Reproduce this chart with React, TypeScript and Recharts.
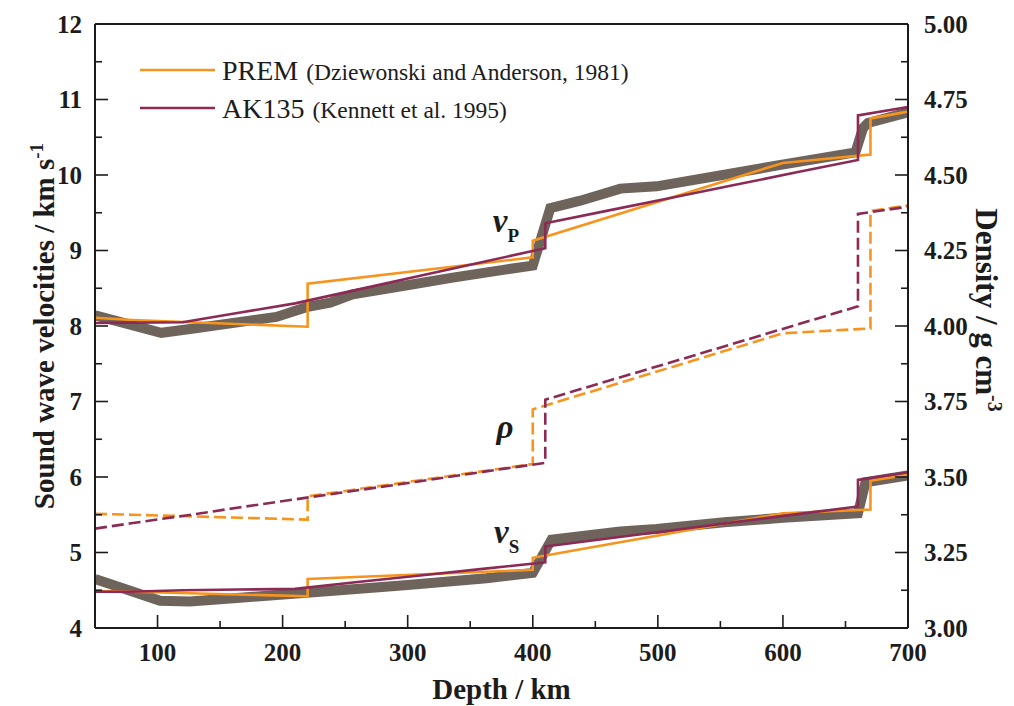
import React from 'react';
import { ComposedChart, Line, XAxis, YAxis, Legend, ReferenceDot, Label } from 'recharts';

const SERIF = '"Liberation Serif", "Times New Roman", serif';
const INK = '#1c1c1c';
const ORANGE = '#F7941E';
const PLUM = '#8B2A55';
const GREY = '#6E645C';

// axis ticks
const depthTicks = [100, 150, 200, 250, 300, 350, 400, 450, 500, 550, 600, 650, 700];
const velocityTicks = [4, 4.5, 5, 5.5, 6, 6.5, 7, 7.5, 8, 8.5, 9, 9.5, 10, 10.5, 11, 11.5, 12];
const densityTicks = [3, 3.125, 3.25, 3.375, 3.5, 3.625, 3.75, 3.875, 4, 4.125, 4.25, 4.375, 4.5, 4.625, 4.75, 4.875, 5];

// PREM (Dziewonski and Anderson, 1981)
const premDepth = [50, 80, 220, 220, 400, 400, 600, 670, 670, 700];
const premVp = [8.11, 8.08, 7.99, 8.56, 8.91, 9.13, 10.16, 10.27, 10.75, 10.84];
const premVs = [4.49, 4.48, 4.42, 4.65, 4.77, 4.93, 5.52, 5.57, 5.95, 6.03];
const premRho = [3.378, 3.375, 3.359, 3.436, 3.543, 3.724, 3.976, 3.992, 4.381, 4.399];

// AK135 (Kennett et al. 1995)
const akDepth = [50, 77.5, 120, 165, 210, 260, 310, 360, 410, 410, 460, 510, 560, 610, 660, 660, 700];
const akVp = [8.04, 8.045, 8.05, 8.175, 8.30, 8.482, 8.665, 8.848, 9.03, 9.36, 9.528, 9.696, 9.864, 10.032, 10.20, 10.79, 10.90];
const akVs = [4.48, 4.48, 4.50, 4.509, 4.518, 4.609, 4.696, 4.783, 4.870, 5.081, 5.186, 5.292, 5.399, 5.505, 5.610, 5.961, 6.064];
const akRho = [3.329, 3.346, 3.371, 3.399, 3.426, 3.456, 3.486, 3.517, 3.547, 3.756, 3.818, 3.879, 3.941, 4.003, 4.065, 4.371, 4.395];

// computed profile (thick grey band)
const calcVpDepth = [50, 103, 126, 195, 219, 238, 256, 296, 336, 379, 400, 414, 438, 470, 499, 597, 658, 664, 668, 700];
const calcVp = [8.14, 7.91, 7.96, 8.12, 8.25, 8.31, 8.42, 8.53, 8.64, 8.75, 8.80, 9.56, 9.66, 9.82, 9.85, 10.13, 10.30, 10.62, 10.69, 10.83];
const calcVsDepth = [50, 102, 126, 166, 206, 238, 300, 363, 400, 415, 470, 499, 553, 600, 660, 666, 700];
const calcVs = [4.65, 4.36, 4.35, 4.40, 4.45, 4.49, 4.57, 4.66, 4.73, 5.17, 5.28, 5.31, 5.40, 5.46, 5.52, 5.93, 6.02];

const legendEntries = [
  { name: 'PREM', source: '(Dziewonski and Anderson, 1981)', color: ORANGE },
  { name: 'AK135', source: '(Kennett et al. 1995)', color: PLUM },
];

const annotations = [
  { depth: 368, vel: 9.25, symbol: 'v', sub: 'P' },
  { depth: 371, vel: 6.52, symbol: 'ρ', sub: '' },
  { depth: 369, vel: 5.13, symbol: 'v', sub: 'S' },
];

const pts = (depth: number[], value: number[]) => depth.map((d, i) => ({ depth: d, value: value[i] }));

const tickText = { fontFamily: SERIF, fontWeight: 'bold' as const, fontSize: 25, fill: INK };

function BottomTick({ x, y, payload }: any) {
  const v = payload.value;
  const major = v % 100 === 0;
  return (
    <g>
      {v < 700 && <line x1={x} x2={x} y1={y} y2={y - (major ? 13 : 7)} stroke={INK} strokeWidth={1.6} />}
      {major && <text x={x} y={y + 33} textAnchor="middle" {...tickText}>{v}</text>}
    </g>
  );
}

function TopTick({ x, y, payload }: any) {
  const v = payload.value;
  if (v >= 700) return <g />;
  const major = v % 100 === 0;
  return <line x1={x} x2={x} y1={y} y2={y + (major ? 13 : 7)} stroke={INK} strokeWidth={1.6} />;
}

function LeftTick({ x, y, payload }: any) {
  const v = payload.value;
  const major = Number.isInteger(v);
  return (
    <g>
      {v > 4 && v < 12 && <line x1={x} x2={x + (major ? 13 : 7)} y1={y} y2={y} stroke={INK} strokeWidth={1.6} />}
      {major && <text x={x - 13} y={y} dy="0.35em" textAnchor="end" {...tickText}>{v}</text>}
    </g>
  );
}

function RightTick({ x, y, payload }: any) {
  const v = payload.value;
  const major = Math.abs(v * 4 - Math.round(v * 4)) < 1e-6;
  return (
    <g>
      {v > 3 && v < 5 && <line x1={x} x2={x - (major ? 13 : 7)} y1={y} y2={y} stroke={INK} strokeWidth={1.6} />}
      {major && <text x={x + 16} y={y} dy="0.35em" textAnchor="start" {...tickText}>{v.toFixed(2)}</text>}
    </g>
  );
}

const titleText = { fontFamily: SERIF, fontWeight: 'bold' as const, fontSize: 29, fill: INK };

function VelocityTitle({ viewBox }: any) {
  const cx = viewBox.x + 46;
  const cy = viewBox.y + viewBox.height / 2;
  return (
    <text transform={`translate(${cx},${cy}) rotate(-90)`} textAnchor="middle" {...titleText}>
      Sound wave velocities / km s<tspan fontSize={19} dy={-11}>-1</tspan>
    </text>
  );
}

function DensityTitle({ viewBox }: any) {
  const cx = viewBox.x + 68;
  const cy = viewBox.y + viewBox.height / 2 - 16;
  return (
    <text transform={`translate(${cx},${cy}) rotate(90)`} textAnchor="middle" {...titleText} fontSize={31}>
      Density / g cm<tspan fontSize={20} dy={-12}>-3</tspan>
    </text>
  );
}

function DepthTitle({ viewBox }: any) {
  return (
    <text x={viewBox.x + viewBox.width / 2} y={viewBox.y + 71} textAnchor="middle" {...titleText}>
      Depth / km
    </text>
  );
}

function ModelLegend() {
  return (
    <svg width={560} height={90}>
      {legendEntries.map((e, i) => {
        const cy = 17 + i * 38;
        return (
          <g key={e.name}>
            <line x1={2} x2={77} y1={cy} y2={cy} stroke={e.color} strokeWidth={2.6} />
            <text x={84} y={cy + 10} fontFamily={SERIF} fontSize={28} fill={INK}>
              {e.name}
              <tspan dx={8} fontSize={23.5}>{e.source}</tspan>
            </text>
          </g>
        );
      })}
    </svg>
  );
}

const symbolShape = (symbol: string, sub: string) => ({ cx, cy }: any) => (
  <text x={cx} y={cy} fontFamily={SERIF} fontStyle="italic" fontWeight="bold" fontSize={33} fill={INK}>
    {symbol}
    {sub && <tspan fontStyle="normal" fontSize={19} dy={10}>{sub}</tspan>}
  </text>
);

export default function App() {
  const solid = (data: any[], color: string, width: number, key: string) => (
    <Line key={key} data={data} dataKey="value" xAxisId="depth" yAxisId="vel" type="linear" stroke={color}
      strokeWidth={width} dot={false} activeDot={false} isAnimationActive={false} />
  );
  const dashed = (data: any[], color: string, key: string) => (
    <Line key={key} data={data} dataKey="value" xAxisId="depth" yAxisId="rho" type="linear" stroke={color}
      strokeWidth={2.6} strokeDasharray="12 5" dot={false} activeDot={false} isAnimationActive={false} />
  );

  return (
    <div style={{ width: 1000, height: 698 }}>
      <ComposedChart width={1000} height={698} margin={{ top: 15, right: 0, bottom: 0, left: 0 }}>
        <XAxis xAxisId="depth" dataKey="depth" type="number" domain={[50, 700]} allowDataOverflow ticks={depthTicks}
          interval={0} height={78} tickSize={0} tickMargin={0} tickLine={false}
          axisLine={{ stroke: INK, strokeWidth: 2 }} tick={<BottomTick />}>
          <Label content={<DepthTitle />} />
        </XAxis>
        <XAxis xAxisId="top" orientation="top" type="number" domain={[50, 700]} ticks={depthTicks} interval={0}
          height={1} tickSize={0} tickMargin={0} tickLine={false}
          axisLine={{ stroke: INK, strokeWidth: 2 }} tick={<TopTick />} />
        <YAxis yAxisId="vel" type="number" domain={[4, 12]} ticks={velocityTicks} interval={0} width={87}
          tickSize={0} tickMargin={0} tickLine={false} axisLine={{ stroke: INK, strokeWidth: 2 }} tick={<LeftTick />}>
          <Label content={<VelocityTitle />} />
        </YAxis>
        <YAxis yAxisId="rho" orientation="right" type="number" domain={[3, 5]} ticks={densityTicks} interval={0}
          width={100} tickSize={0} tickMargin={0} tickLine={false} axisLine={{ stroke: INK, strokeWidth: 2 }}
          tick={<RightTick />}>
          <Label content={<DensityTitle />} />
        </YAxis>

        {solid(pts(calcVpDepth, calcVp), GREY, 10, 'calc-vp')}
        {solid(pts(calcVsDepth, calcVs), GREY, 10, 'calc-vs')}
        {dashed(pts(premDepth, premRho), ORANGE, 'prem-rho')}
        {dashed(pts(akDepth, akRho), PLUM, 'ak-rho')}
        {solid(pts(premDepth, premVp), ORANGE, 2.6, 'prem-vp')}
        {solid(pts(premDepth, premVs), ORANGE, 2.6, 'prem-vs')}
        {solid(pts(akDepth, akVp), PLUM, 2.6, 'ak-vp')}
        {solid(pts(akDepth, akVs), PLUM, 2.6, 'ak-vs')}

        {annotations.map((a) => (
          <ReferenceDot key={a.symbol + a.sub} xAxisId="depth" yAxisId="vel" x={a.depth} y={a.vel} r={0}
            shape={symbolShape(a.symbol, a.sub)} />
        ))}

        <Legend layout="vertical" align="center" verticalAlign="middle" content={<ModelLegend />}
          wrapperStyle={{ position: 'absolute', left: 130, top: 45, width: 560, height: 90 }} />
      </ComposedChart>
    </div>
  );
}
